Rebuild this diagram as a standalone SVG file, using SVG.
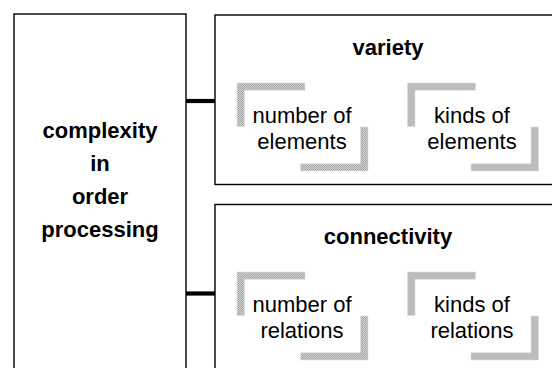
<svg xmlns="http://www.w3.org/2000/svg" width="552" height="368" viewBox="0 0 552 368">
  <defs>
    <!-- dithered grey fill for the corner brackets -->
    <pattern id="dither" width="2" height="2" patternUnits="userSpaceOnUse">
      <rect width="2" height="2" fill="#d2d2d2"/>
      <rect width="1" height="1" fill="#a6a6a6"/>
      <rect x="1" y="1" width="1" height="1" fill="#a6a6a6"/>
    </pattern>
    <!-- pair of L-shaped brackets framing a label (top-left and bottom-right) -->
    <g id="brackets">
      <path d="M0 0 H68 V7.3 H7.5 V43.5 H0 Z" class="bracket"/>
      <path d="M131 88 H63.5 V80.7 H123.5 V44 H131 Z" class="bracket"/>
    </g>
  </defs>
  <style>
    .box { fill: #fff; stroke: #000; stroke-width: 1.4; }
    .link { stroke: #000; stroke-width: 4.2; fill: none; }
    .bracket { fill: url(#dither); stroke: #dcdcdc; stroke-width: 0.6; }
    .t { font-family: "Liberation Sans", Arial, sans-serif; font-size: 22px; fill: #000; text-anchor: middle; }
    .b { font-weight: bold; }
  </style>

  <rect width="552" height="368" fill="#fff"/>

  <!-- connectors -->
  <g id="connectors">
    <line class="link" x1="186" y1="101" x2="215" y2="101"/>
    <line class="link" x1="186" y1="293.5" x2="215" y2="293.5"/>
  </g>

  <!-- main concept -->
  <g id="complexity">
    <rect class="box" x="14" y="14" width="172" height="370"/>
    <text class="t b" x="100" y="138">complexity</text>
    <text class="t b" x="100" y="171">in</text>
    <text class="t b" x="100" y="204">order</text>
    <text class="t b" x="100" y="237">processing</text>
  </g>

  <!-- variety panel -->
  <g id="variety">
    <rect class="box" x="215" y="15" width="350" height="169.5"/>
    <text class="t b" x="388" y="55">variety</text>
    <g id="number-of-elements">
      <use href="#brackets" x="237" y="83"/>
      <text class="t" x="302" y="122.7">number of</text>
      <text class="t" x="302" y="149">elements</text>
    </g>
    <g id="kinds-of-elements">
      <use href="#brackets" x="407.5" y="83"/>
      <text class="t" x="472" y="122.7">kinds of</text>
      <text class="t" x="472" y="149">elements</text>
    </g>
  </g>

  <!-- connectivity panel -->
  <g id="connectivity">
    <rect class="box" x="215" y="204.5" width="350" height="180"/>
    <text class="t b" x="388" y="244">connectivity</text>
    <g id="number-of-relations">
      <use href="#brackets" x="237" y="272"/>
      <text class="t" x="302" y="311.7">number of</text>
      <text class="t" x="302" y="338">relations</text>
    </g>
    <g id="kinds-of-relations">
      <use href="#brackets" x="407.5" y="272"/>
      <text class="t" x="472" y="311.7">kinds of</text>
      <text class="t" x="472" y="338">relations</text>
    </g>
  </g>
</svg>
